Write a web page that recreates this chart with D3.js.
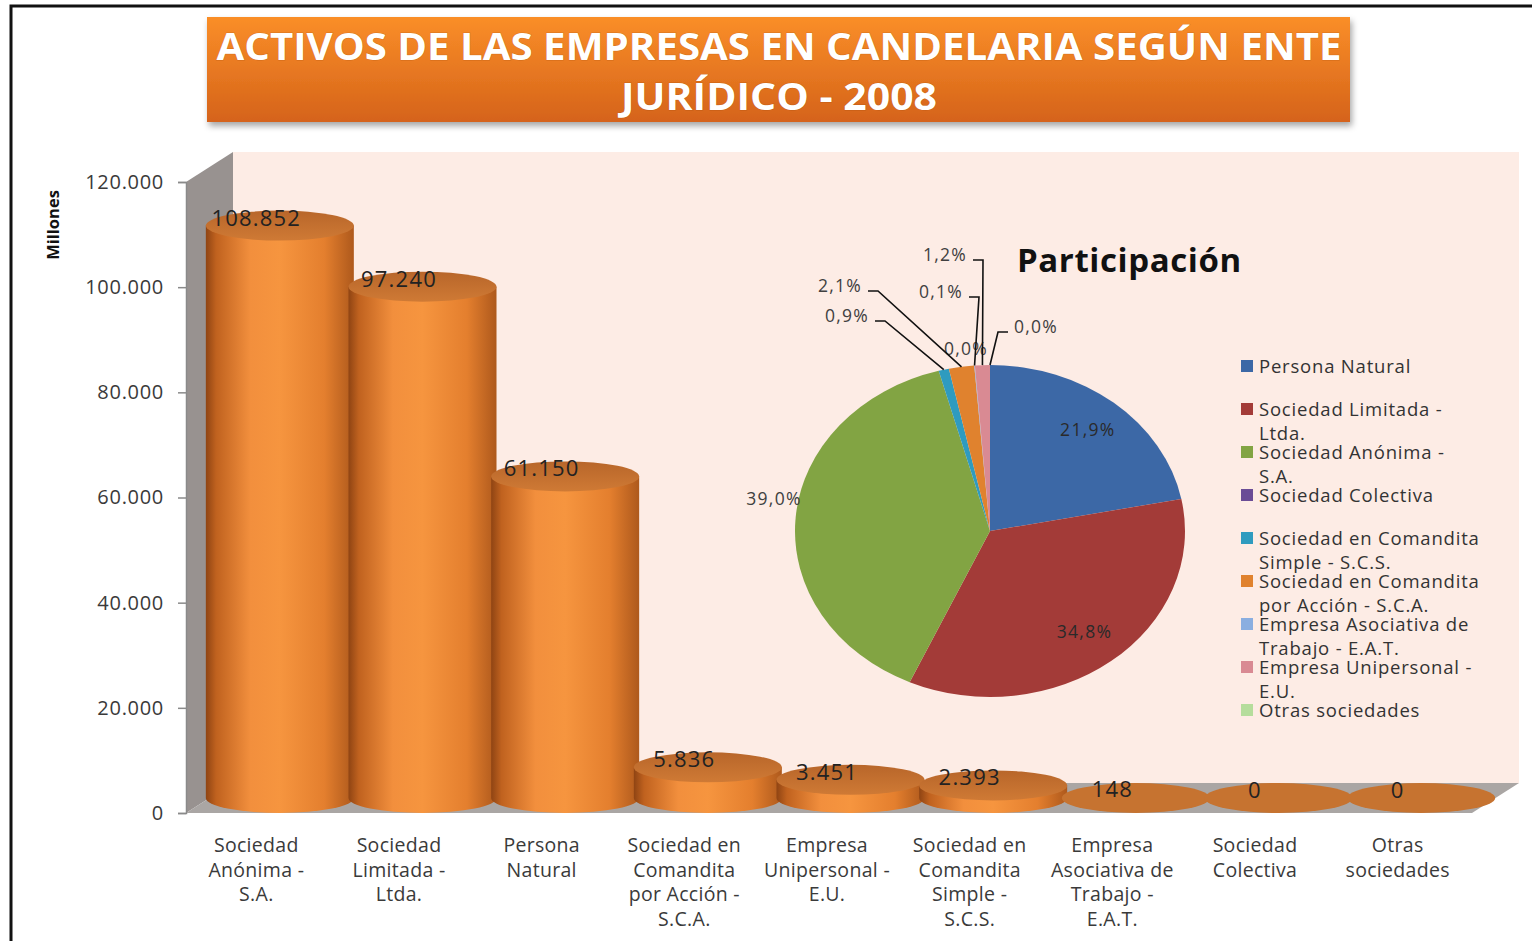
<!DOCTYPE html>
<html>
<head>
<meta charset="utf-8">
<script src="https://cdn.jsdelivr.net/npm/d3@7"></script>
<style>
  body { margin: 0; background: #fff; }
  svg { display: block; font-family: "Open Sans", sans-serif; }
</style>
</head>
<body>
<div id="chart"></div>
<script>
// bar chart data, in the order of the bars
const categoryNames = ["Sociedad Anónima - S.A.", "Sociedad Limitada - Ltda.", "Persona Natural",
  "Sociedad en Comandita por Acción - S.C.A.", "Empresa Unipersonal - E.U.",
  "Sociedad en Comandita Simple - S.C.S.", "Empresa Asociativa de Trabajo - E.A.T.",
  "Sociedad Colectiva", "Otras sociedades"];
const activos = [108852, 97240, 61150, 5836, 3451, 2393, 148, 0, 0];
const xLabelLines = [["Sociedad", "Anónima -", "S.A."], ["Sociedad", "Limitada -", "Ltda."],
  ["Persona", "Natural"], ["Sociedad en", "Comandita", "por Acción -", "S.C.A."],
  ["Empresa", "Unipersonal -", "E.U."], ["Sociedad en", "Comandita", "Simple -", "S.C.S."],
  ["Empresa", "Asociativa de", "Trabajo -", "E.A.T."], ["Sociedad", "Colectiva"], ["Otras", "sociedades"]];
const yTicks = [0, 20000, 40000, 60000, 80000, 100000, 120000];

// pie ("Participación") order and legend
const pieNames = ["Persona Natural", "Sociedad Limitada - Ltda.", "Sociedad Anónima - S.A.",
  "Sociedad Colectiva", "Sociedad en Comandita Simple - S.C.S.",
  "Sociedad en Comandita por Acción - S.C.A.", "Empresa Asociativa de Trabajo - E.A.T.",
  "Empresa Unipersonal - E.U.", "Otras sociedades"];
const legendLines = [["Persona Natural"], ["Sociedad Limitada -", "Ltda."], ["Sociedad Anónima -", "S.A."],
  ["Sociedad Colectiva"], ["Sociedad en Comandita", "Simple - S.C.S."],
  ["Sociedad en Comandita", "por Acción - S.C.A."], ["Empresa Asociativa de", "Trabajo - E.A.T."],
  ["Empresa Unipersonal -", "E.U."], ["Otras sociedades"]];
const pieColors = ["#3c68a6", "#a33b38", "#82a443", "#6a4c96", "#2f9bbf", "#e0822e", "#8aaee0", "#d98a93", "#b5dd9c"];

// where excel put the percent labels (relative to pie centre); lead = draw a leader line
const pctLabelLayout = [
  {mode: "in", r: 0.79}, {mode: "in", r: 0.78}, {mode: "at", dx: -216, dy: -32},
  {mode: "at", dx: -24, dy: -182}, {mode: "lead", dx: -143, dy: -215},
  {mode: "lead", dx: -150, dy: -245}, {mode: "lead", dx: -49, dy: -239},
  {mode: "lead", dx: -45, dy: -276}, {mode: "lead", dx: 46, dy: -204}
];

const W = 1532, H = 941;
const svg = d3.select("#chart").append("svg").attr("width", W).attr("height", H);
const defs = svg.append("defs");

// frame
svg.append("rect").attr("x", 11).attr("y", 6).attr("width", W + 20).attr("height", H + 20)
  .attr("fill", "none").attr("stroke", "#111").attr("stroke-width", 3);

// gradients
let g1 = defs.append("linearGradient").attr("id", "titleGrad").attr("x1", 0).attr("y1", 0).attr("x2", 0).attr("y2", 1);
g1.append("stop").attr("offset", 0).attr("stop-color", "#fa8e28");
g1.append("stop").attr("offset", 1).attr("stop-color", "#d5631a");

let g2 = defs.append("linearGradient").attr("id", "cylGrad");
[[0, "#8f4413"], [0.07, "#c0621f"], [0.3, "#f28f3d"], [0.5, "#f6953f"], [0.8, "#e47f2e"], [1, "#ae591c"]]
  .forEach(s => g2.append("stop").attr("offset", s[0]).attr("stop-color", s[1]));

let g3 = defs.append("linearGradient").attr("id", "topGrad").attr("x1", 0).attr("y1", 0).attr("x2", 0).attr("y2", 1);
g3.append("stop").attr("offset", 0).attr("stop-color", "#b8662a");
g3.append("stop").attr("offset", 1).attr("stop-color", "#cf7a35");

let f = defs.append("filter").attr("id", "shadow").attr("x", "-5%").attr("y", "-10%").attr("width", "110%").attr("height", "130%");
f.append("feDropShadow").attr("dx", 2).attr("dy", 4).attr("stdDeviation", 3).attr("flood-color", "#000").attr("flood-opacity", 0.35);

// title
svg.append("rect").attr("x", 207).attr("y", 17).attr("width", 1143).attr("height", 105)
  .attr("fill", "url(#titleGrad)").attr("filter", "url(#shadow)");
const titleLines = ["ACTIVOS DE LAS EMPRESAS EN CANDELARIA SEGÚN ENTE", "JURÍDICO - 2008"];
const titleW = [1125, 316];
titleLines.forEach((t, i) => {
  svg.append("text").attr("x", 779).attr("y", 60 + i * 50).attr("text-anchor", "middle")
    .attr("textLength", titleW[i]).attr("lengthAdjust", "spacingAndGlyphs")
    .attr("font-size", 37).attr("font-weight", 700).attr("fill", "#fff")
    .style("paint-order", "stroke").attr("stroke", "rgba(120,50,0,0.25)").attr("stroke-width", 1)
    .text(t);
});

// 3D box
const depthX = 47, depthY = -30;
const y = d3.scaleLinear().domain([0, 120000]).range([813, 182]);
const x = d3.scaleBand().domain(categoryNames).range([185, 1469]).padding(0);
const x0 = 186, x1 = 1472, yB = y(0), yT = y(120000);

svg.append("polygon")
  .attr("points", [[x0, yB], [x0, yT], [x0 + depthX, yT + depthY], [x0 + depthX, yB + depthY]].join(" "))
  .attr("fill", "#989290");
svg.append("rect").attr("x", x0 + depthX).attr("y", yT + depthY).attr("width", x1 - x0).attr("height", yB - yT)
  .attr("fill", "#fdece5");
svg.append("polygon")
  .attr("points", [[x0, yB], [x1, yB], [x1 + depthX, yB + depthY], [x0 + depthX, yB + depthY]].join(" "))
  .attr("fill", "#aaa6a4");

// y axis
const yAxis = svg.append("g").attr("transform", `translate(${x0},0)`)
  .call(d3.axisLeft(y).tickValues(yTicks).tickSize(8).tickPadding(14)
    .tickFormat(d => d3.format(",")(d).replace(/,/g, ".")));
yAxis.select(".domain").attr("stroke", "#8a8a8a").attr("stroke-width", 1.5);
yAxis.selectAll(".tick line").attr("stroke", "#8a8a8a").attr("stroke-width", 1.5);
yAxis.selectAll(".tick text").attr("font-size", 20).attr("letter-spacing", 0.7).attr("fill", "#3a3a3a")
  .attr("font-family", "Open Sans");

svg.append("text").attr("transform", "translate(59,225) rotate(-90)").attr("text-anchor", "middle")
  .attr("font-size", 16.5).attr("font-weight", 700).attr("fill", "#111").text("Millones");

// cylinders
const rx = 74, ry = 15, cOff = 23.5;
const bars = svg.append("g");
categoryNames.forEach((c, i) => {
  const cx = x(c) + x.bandwidth() / 2 + cOff;
  const top = y(activos[i]) - 15, bot = y(0) - 15;
  const g = bars.append("g");
  if (top < bot - 1) {
    g.append("path")
      .attr("d", `M${cx - rx},${top} L${cx - rx},${bot} A${rx},${ry} 0 0 0 ${cx + rx},${bot} L${cx + rx},${top} Z`)
      .attr("fill", "url(#cylGrad)");
    g.append("ellipse").attr("cx", cx).attr("cy", top).attr("rx", rx).attr("ry", ry).attr("fill", "url(#topGrad)");
  } else {
    g.append("ellipse").attr("cx", cx).attr("cy", bot).attr("rx", rx).attr("ry", ry).attr("fill", "#c67330");
  }
});

// value labels
svg.append("g").selectAll("text").data(categoryNames).join("text")
  .attr("x", d => x(d) + x.bandwidth() / 2)
  .attr("y", (d, i) => y(activos[i]) - 15)
  .attr("text-anchor", "middle").attr("font-size", 22).attr("letter-spacing", 1.2).attr("fill", "#222")
  .text((d, i) => d3.format(",")(activos[i]).replace(/,/g, "."));

// x labels
const xl = svg.append("g").selectAll("text").data(categoryNames).join("text")
  .attr("text-anchor", "middle").attr("font-size", 19.5).attr("letter-spacing", 0.3).attr("fill", "#3a3a3a");
xl.each(function (d, i) {
  const t = d3.select(this);
  xLabelLines[i].forEach((ln, j) => {
    t.append("tspan").attr("x", x(d) + x.bandwidth() / 2).attr("y", 852 + j * 24.5).text(ln);
  });
});

// pie
const pcx = 990, pcy = 531, pr = 195, squash = 166 / 195;
const pieValues = pieNames.map(n => activos[categoryNames.indexOf(n)]);
const total = d3.sum(pieValues);
const pieData = d3.pie().sort(null).value(d => d)(pieValues);
const arc = d3.arc().innerRadius(0).outerRadius(pr);
const pieG = svg.append("g").attr("transform", `translate(${pcx},${pcy}) scale(1,${squash})`);
pieG.selectAll("path").data(pieData).join("path").attr("d", arc).attr("fill", (d, i) => pieColors[i]);

const pctFmt = v => d3.format(".1f")(v / total * 100).replace(".", ",") + "%";
const labG = svg.append("g").attr("transform", `translate(${pcx},${pcy})`);
pieData.forEach((d, i) => {
  const L = pctLabelLayout[i];
  const mid = (d.startAngle + d.endAngle) / 2;
  let tx, ty;
  if (L.mode === "in") {
    tx = Math.sin(mid) * pr * L.r; ty = -Math.cos(mid) * pr * L.r * squash;
  } else {
    tx = L.dx; ty = L.dy;
  }
  labG.append("text").attr("x", tx).attr("y", ty + 6).attr("text-anchor", "middle")
    .attr("font-size", 17.5).attr("letter-spacing", 1.3).attr("fill", (L.mode === "in") ? "#2a2a2a" : "#404040")
    .text(pctFmt(d.value));
  if (L.mode === "lead") {
    const ax = Math.sin(mid) * pr, ay = -Math.cos(mid) * pr * squash;
    const side = ax > tx ? 1 : -1;
    const sx = tx + side * 28, sy = ty + 5;
    labG.append("path").attr("d", `M${sx},${sy} L${sx + side * 10},${sy} L${ax},${ay}`)
      .attr("fill", "none").attr("stroke", "#111").attr("stroke-width", 1.6);
  }
});

svg.append("text").attr("x", 1017).attr("y", 272).attr("font-size", 33).attr("font-weight", 700)
  .attr("letter-spacing", 0.6).attr("fill", "#111").text("Participación");

// legend
const leg = svg.append("g");
legendLines.forEach((lines, i) => {
  const ly = 366 + i * 43;
  leg.append("rect").attr("x", 1241).attr("y", ly - 6).attr("width", 12).attr("height", 12).attr("fill", pieColors[i]);
  const t = leg.append("text").attr("font-size", 18.5).attr("letter-spacing", 0.8).attr("fill", "#333");
  lines.forEach((ln, j) => t.append("tspan").attr("x", 1259).attr("y", ly + 6.5 + j * 24).text(ln));
});
</script>
</body>
</html>
